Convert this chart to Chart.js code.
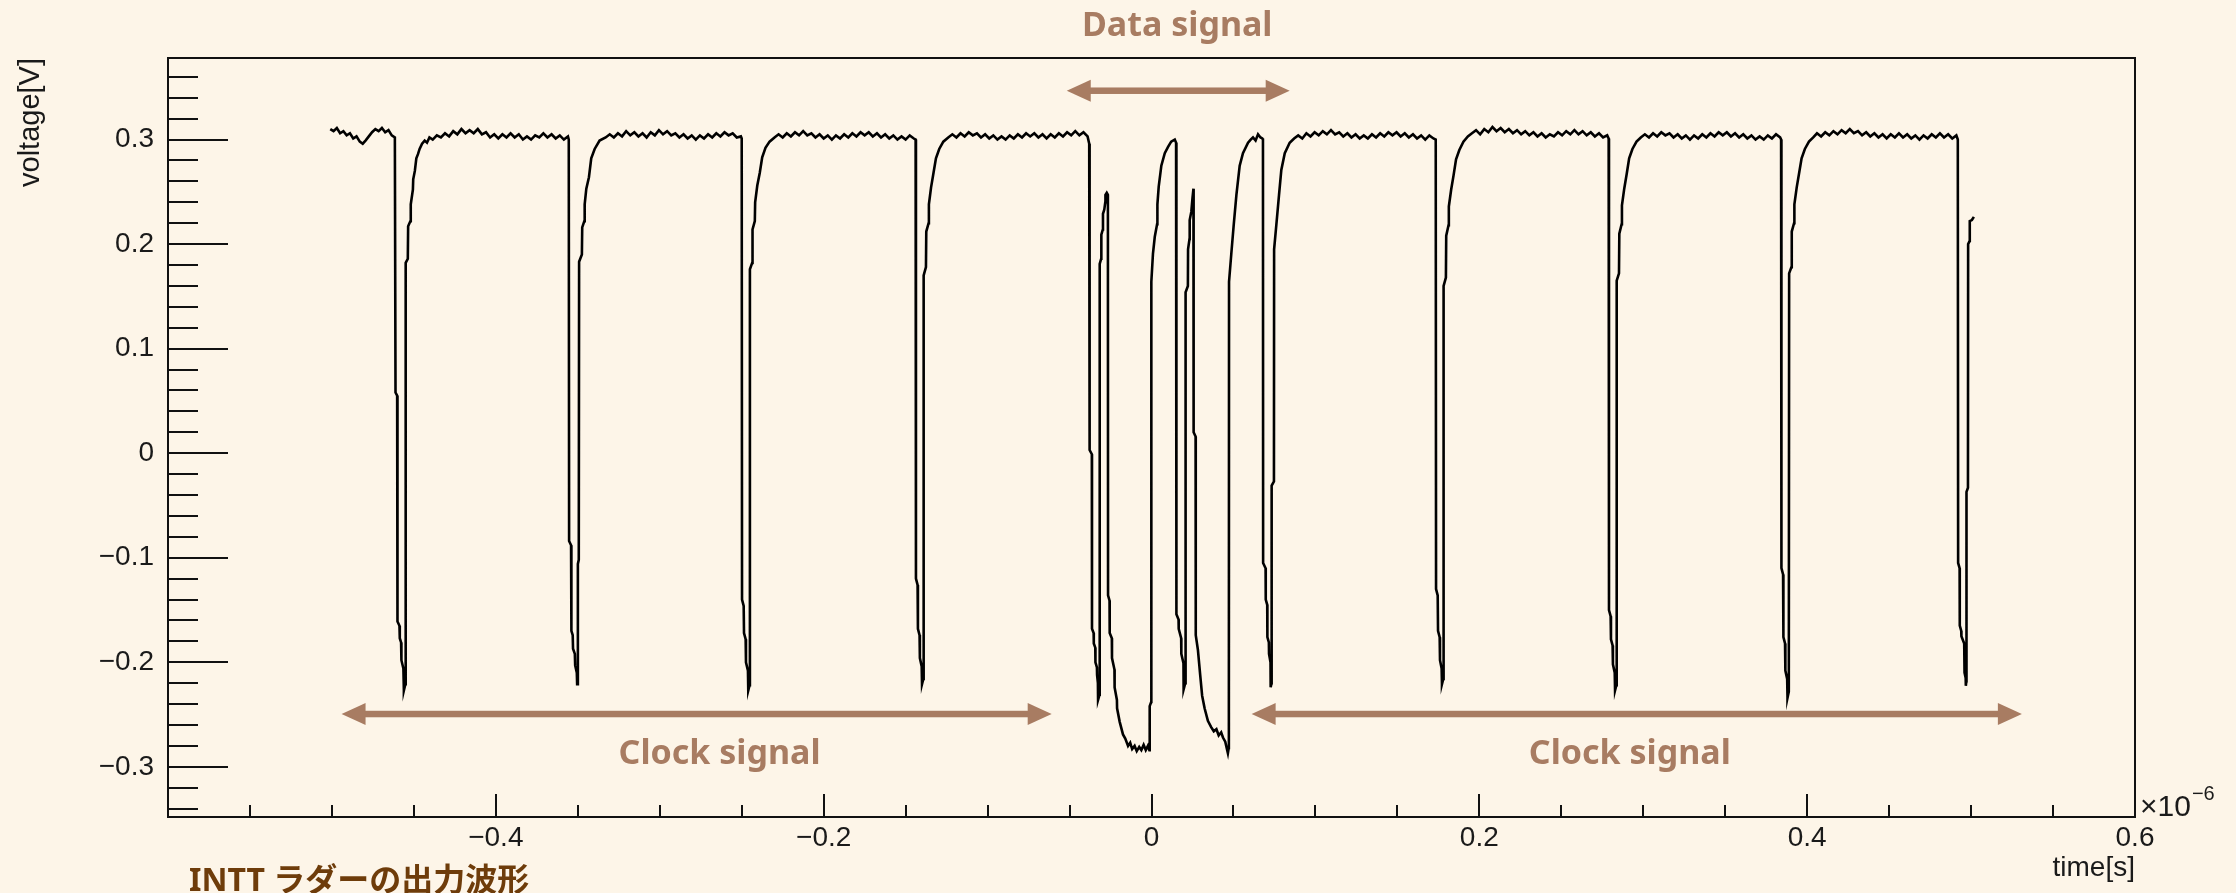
<!DOCTYPE html>
<html>
<head>
<meta charset="utf-8">
<title>INTT ladder output waveform</title>
<script src="https://cdn.jsdelivr.net/npm/chart.js@4.4.1/dist/chart.umd.min.js"></script>
<style>
  html, body { margin: 0; padding: 0; background: #fdf5e8; }
  canvas { display: block; }
</style>
</head>
<body>
<canvas id="waveChart" width="2236" height="893"></canvas>
<script>
// trace points: [time (x1e-6 s), voltage (V)]
const leftClockTrace = [
  [-0.5010,0.310],[-0.4990,0.308],[-0.4970,0.311],[-0.4950,0.306],[-0.4930,0.308],[-0.4910,0.304],[-0.4890,0.306],
  [-0.4870,0.301],[-0.4850,0.303],[-0.4830,0.298],[-0.4812,0.296],[-0.4795,0.299],[-0.4775,0.303],[-0.4755,0.307],
  [-0.4735,0.310],[-0.4715,0.308],[-0.4695,0.311],[-0.4675,0.307],[-0.4655,0.309],[-0.4635,0.304],[-0.4616,0.302],
  [-0.4612,0.058],[-0.4602,0.055],[-0.4600,-0.161],[-0.4588,-0.165],[-0.4586,-0.177],[-0.4578,-0.181],[-0.4576,-0.198],
  [-0.4564,-0.206],[-0.4561,-0.227],[-0.4552,-0.221],[-0.4550,0.182],[-0.4537,0.186],[-0.4535,0.217],[-0.4521,0.222],
  [-0.4519,0.238],[-0.4506,0.252],[-0.4504,0.262],[-0.4494,0.270],[-0.4485,0.282],[-0.4475,0.286],[-0.4465,0.291],
  [-0.4450,0.296],[-0.4434,0.299],[-0.4420,0.297],[-0.4405,0.302],
  [-0.4385,0.300],[-0.4360,0.304],[-0.4335,0.302],[-0.4310,0.306],[-0.4285,0.303],[-0.4260,0.308],[-0.4235,0.305],
  [-0.4210,0.310],[-0.4185,0.306],[-0.4160,0.309],[-0.4135,0.306],[-0.4110,0.310],[-0.4085,0.305],[-0.4060,0.307],
  [-0.4035,0.302],[-0.4010,0.305],[-0.3985,0.301],[-0.3960,0.305],[-0.3935,0.302],[-0.3910,0.306],[-0.3885,0.302],
  [-0.3860,0.305],[-0.3835,0.300],[-0.3810,0.303],[-0.3785,0.300],[-0.3760,0.304],[-0.3735,0.302],[-0.3710,0.306],
  [-0.3685,0.302],[-0.3660,0.305],[-0.3635,0.301],[-0.3610,0.304],[-0.3585,0.300],[-0.3560,0.303],
  [-0.3555,0.300],[-0.3553,-0.084],[-0.3541,-0.088],[-0.3539,-0.170],[-0.3531,-0.174],[-0.3529,-0.187],[-0.3518,-0.192],
  [-0.3516,-0.203],[-0.3506,-0.210],[-0.3504,-0.221],[-0.3500,-0.216],[-0.3499,-0.106],[-0.3494,-0.102],[-0.3492,0.183],
  [-0.3475,0.190],[-0.3473,0.216],[-0.3460,0.222],[-0.3458,0.238],[-0.3448,0.253],[-0.3432,0.264],[-0.3418,0.282],
  [-0.3397,0.291],[-0.3367,0.299],[-0.3330,0.302],
  [-0.3305,0.305],[-0.3280,0.302],[-0.3255,0.306],[-0.3230,0.303],[-0.3205,0.308],[-0.3180,0.304],[-0.3155,0.307],
  [-0.3130,0.303],[-0.3105,0.306],[-0.3080,0.302],[-0.3055,0.307],[-0.3030,0.304],[-0.3005,0.309],[-0.2980,0.305],
  [-0.2955,0.308],[-0.2930,0.304],[-0.2905,0.306],[-0.2880,0.302],[-0.2855,0.305],[-0.2830,0.301],[-0.2805,0.304],
  [-0.2780,0.300],[-0.2755,0.304],[-0.2730,0.301],[-0.2705,0.305],[-0.2680,0.302],[-0.2655,0.306],[-0.2630,0.303],
  [-0.2605,0.307],[-0.2580,0.304],[-0.2555,0.306],[-0.2530,0.302],[-0.2505,0.303],
  [-0.2500,0.301],[-0.2498,-0.140],[-0.2488,-0.146],[-0.2486,-0.172],[-0.2476,-0.178],[-0.2474,-0.200],[-0.2462,-0.208],
  [-0.2460,-0.227],[-0.2452,-0.222],[-0.2450,0.176],[-0.2436,0.182],[-0.2434,0.214],[-0.2420,0.222],[-0.2418,0.240],
  [-0.2405,0.256],[-0.2390,0.268],[-0.2375,0.283],[-0.2355,0.292],[-0.2330,0.298],[-0.2300,0.302],
  [-0.2275,0.305],[-0.2250,0.302],[-0.2225,0.306],[-0.2200,0.303],[-0.2175,0.307],[-0.2150,0.304],[-0.2125,0.308],
  [-0.2100,0.304],[-0.2075,0.306],[-0.2050,0.302],[-0.2025,0.305],[-0.2000,0.301],[-0.1975,0.304],[-0.1950,0.300],
  [-0.1925,0.304],[-0.1900,0.301],[-0.1875,0.305],[-0.1850,0.302],[-0.1825,0.306],[-0.1800,0.303],[-0.1775,0.307],
  [-0.1750,0.304],[-0.1725,0.307],[-0.1700,0.303],[-0.1675,0.306],[-0.1650,0.302],[-0.1625,0.305],[-0.1600,0.301],
  [-0.1575,0.304],[-0.1550,0.300],[-0.1525,0.303],[-0.1500,0.300],[-0.1475,0.304],[-0.1450,0.301],
  [-0.1439,0.300],[-0.1437,-0.120],[-0.1427,-0.126],[-0.1425,-0.168],[-0.1415,-0.174],[-0.1413,-0.196],[-0.1402,-0.204],
  [-0.1400,-0.221],[-0.1392,-0.216],[-0.1390,0.170],[-0.1376,0.178],[-0.1374,0.212],[-0.1360,0.220],[-0.1358,0.238],
  [-0.1345,0.254],[-0.1330,0.268],[-0.1315,0.282],[-0.1295,0.291],[-0.1270,0.298],[-0.1240,0.302],
  [-0.1215,0.305],[-0.1190,0.302],[-0.1165,0.306],[-0.1140,0.303],[-0.1115,0.307],[-0.1090,0.304],[-0.1065,0.306],
  [-0.1040,0.302],[-0.1015,0.305],[-0.0990,0.301],[-0.0965,0.304],[-0.0940,0.300],[-0.0915,0.303],[-0.0890,0.300],
  [-0.0865,0.304],[-0.0840,0.301],[-0.0815,0.305],[-0.0790,0.302],[-0.0765,0.306],[-0.0740,0.303],[-0.0715,0.306],
  [-0.0690,0.302],[-0.0665,0.305],[-0.0640,0.301],[-0.0615,0.305],[-0.0590,0.302],[-0.0565,0.306],[-0.0540,0.303],
  [-0.0515,0.307],[-0.0490,0.304],[-0.0465,0.308],[-0.0440,0.304],[-0.0415,0.307],[-0.0390,0.303]
];

const dataSignalTrace = [
  [-0.0380,0.296],[-0.0378,0.294],[-0.0377,0.003],[-0.0364,-0.001],[-0.0363,-0.168],[-0.0353,-0.172],[-0.0352,-0.182],
  [-0.0343,-0.186],[-0.0342,-0.200],[-0.0333,-0.205],[-0.0332,-0.212],[-0.0327,-0.220],[-0.0326,-0.236],[-0.0317,-0.231],
  [-0.0316,0.181],[-0.0307,0.186],[-0.0306,0.209],[-0.0297,0.214],[-0.0296,0.229],[-0.0288,0.233],[-0.0282,0.240],
  [-0.0281,0.247],[-0.0273,0.249],[-0.0266,0.247],[-0.0265,-0.136],[-0.0256,-0.141],[-0.0255,-0.172],[-0.0242,-0.177],
  [-0.0241,-0.196],[-0.0226,-0.207],[-0.0225,-0.224],[-0.0211,-0.236],[-0.0210,-0.244],[-0.0194,-0.257],[-0.0174,-0.269],
  [-0.0160,-0.273],[-0.0143,-0.280],[-0.0130,-0.277],[-0.0118,-0.283],[-0.0103,-0.280],[-0.0090,-0.285],[-0.0075,-0.281],
  [-0.0062,-0.284],[-0.0048,-0.279],[-0.0035,-0.284],[-0.0022,-0.280],[-0.0013,-0.284],[-0.0011,-0.242],[-0.0002,-0.238],
  [-0.0001,0.164],[0.0009,0.191],[0.0020,0.207],[0.0034,0.219],[0.0036,0.238],[0.0044,0.255],[0.0060,0.275],
  [0.0081,0.287],[0.0101,0.293],[0.0120,0.298],[0.0142,0.300],[0.0150,0.297],[0.0152,-0.154],[0.0165,-0.159],
  [0.0166,-0.168],[0.0181,-0.177],[0.0182,-0.192],[0.0195,-0.201],[0.0196,-0.226],[0.0206,-0.220],[0.0208,0.154],
  [0.0222,0.160],[0.0223,0.195],[0.0232,0.205],[0.0233,0.223],[0.0243,0.231],[0.0250,0.244],[0.0256,0.253],
  [0.0257,0.020],[0.0269,0.016],[0.0270,-0.174],[0.0283,-0.188],[0.0297,-0.212],[0.0309,-0.232],[0.0324,-0.244],
  [0.0344,-0.256],[0.0364,-0.262],[0.0380,-0.266],[0.0396,-0.264],[0.0410,-0.270],[0.0425,-0.267],[0.0436,-0.272],
  [0.0450,-0.276],[0.0460,-0.283],[0.0466,-0.287],[0.0471,-0.282],[0.0472,-0.248],[0.0473,0.164],[0.0487,0.191],
  [0.0502,0.219],[0.0518,0.247],[0.0538,0.275],[0.0558,0.287],[0.0589,0.297],[0.0605,0.300],[0.0619,0.302],
  [0.0635,0.299],[0.0650,0.305],[0.0665,0.302],[0.0676,0.301]
];

const rightClockTrace = [
  [0.0680,0.300],[0.0681,-0.105],[0.0696,-0.110],[0.0697,-0.140],[0.0706,-0.145],[0.0707,-0.176],[0.0716,-0.181],
  [0.0717,-0.192],[0.0726,-0.200],[0.0727,-0.224],[0.0732,-0.220],[0.0733,-0.031],[0.0747,-0.027],[0.0748,0.195],
  [0.0762,0.219],[0.0778,0.247],[0.0792,0.271],[0.0813,0.287],[0.0843,0.297],[0.0870,0.301],
  [0.0895,0.304],[0.0920,0.301],[0.0945,0.306],[0.0970,0.303],[0.0995,0.307],[0.1020,0.304],[0.1045,0.308],
  [0.1070,0.305],[0.1095,0.309],[0.1120,0.305],[0.1145,0.307],[0.1170,0.303],[0.1195,0.306],[0.1220,0.302],
  [0.1245,0.305],[0.1270,0.301],[0.1295,0.304],[0.1320,0.301],[0.1345,0.305],[0.1370,0.302],[0.1395,0.306],
  [0.1420,0.303],[0.1445,0.307],[0.1470,0.304],[0.1495,0.307],[0.1520,0.303],[0.1545,0.306],[0.1570,0.302],
  [0.1595,0.305],[0.1620,0.301],[0.1645,0.304],[0.1670,0.300],[0.1695,0.304],[0.1720,0.301],
  [0.1734,0.300],[0.1736,-0.130],[0.1746,-0.136],[0.1748,-0.170],[0.1758,-0.176],[0.1760,-0.198],[0.1770,-0.206],
  [0.1772,-0.221],[0.1780,-0.216],[0.1782,0.160],[0.1796,0.168],[0.1798,0.208],[0.1812,0.218],[0.1814,0.236],
  [0.1828,0.252],[0.1843,0.266],[0.1858,0.281],[0.1878,0.290],[0.1903,0.298],[0.1930,0.303],
  [0.1955,0.306],[0.1980,0.309],[0.2005,0.305],[0.2030,0.310],[0.2055,0.307],[0.2080,0.312],[0.2105,0.308],
  [0.2130,0.311],[0.2155,0.307],[0.2180,0.310],[0.2205,0.306],[0.2230,0.309],[0.2255,0.305],[0.2280,0.308],
  [0.2305,0.304],[0.2330,0.307],[0.2355,0.303],[0.2380,0.306],[0.2405,0.302],[0.2430,0.305],[0.2455,0.303],
  [0.2480,0.307],[0.2505,0.304],[0.2530,0.308],[0.2555,0.305],[0.2580,0.309],[0.2605,0.305],[0.2630,0.308],
  [0.2655,0.304],[0.2680,0.307],[0.2705,0.303],[0.2730,0.306],[0.2755,0.302],[0.2780,0.304],
  [0.2789,0.301],[0.2791,-0.150],[0.2801,-0.156],[0.2803,-0.178],[0.2813,-0.184],[0.2815,-0.202],[0.2826,-0.210],
  [0.2828,-0.227],[0.2836,-0.222],[0.2838,0.165],[0.2852,0.172],[0.2854,0.210],[0.2868,0.219],[0.2870,0.237],
  [0.2884,0.253],[0.2899,0.267],[0.2914,0.282],[0.2934,0.291],[0.2959,0.298],[0.2985,0.302],
  [0.3010,0.305],[0.3035,0.302],[0.3060,0.306],[0.3085,0.303],[0.3110,0.307],[0.3135,0.304],[0.3160,0.306],
  [0.3185,0.302],[0.3210,0.305],[0.3235,0.301],[0.3260,0.304],[0.3285,0.300],[0.3310,0.304],[0.3335,0.301],
  [0.3360,0.305],[0.3385,0.302],[0.3410,0.306],[0.3435,0.303],[0.3460,0.307],[0.3485,0.304],[0.3510,0.307],
  [0.3535,0.303],[0.3560,0.306],[0.3585,0.302],[0.3610,0.305],[0.3635,0.301],[0.3660,0.304],[0.3685,0.300],
  [0.3710,0.303],[0.3735,0.300],[0.3760,0.304],[0.3785,0.301],[0.3810,0.305],[0.3835,0.302],
  [0.3841,0.300],[0.3843,-0.110],[0.3853,-0.116],[0.3855,-0.176],[0.3865,-0.182],[0.3867,-0.208],[0.3878,-0.216],
  [0.3880,-0.234],[0.3888,-0.228],[0.3890,0.172],[0.3904,0.178],[0.3906,0.212],[0.3920,0.220],[0.3922,0.238],
  [0.3936,0.254],[0.3951,0.268],[0.3966,0.282],[0.3986,0.291],[0.4011,0.298],[0.4037,0.302],
  [0.4060,0.306],[0.4085,0.303],[0.4110,0.307],[0.4135,0.304],[0.4160,0.308],[0.4185,0.305],[0.4210,0.309],
  [0.4235,0.306],[0.4260,0.310],[0.4285,0.306],[0.4310,0.308],[0.4335,0.304],[0.4360,0.307],[0.4385,0.303],
  [0.4410,0.306],[0.4435,0.302],[0.4460,0.305],[0.4485,0.301],[0.4510,0.305],[0.4535,0.302],[0.4560,0.306],
  [0.4585,0.302],[0.4610,0.305],[0.4635,0.301],[0.4660,0.304],[0.4685,0.300],[0.4710,0.304],[0.4735,0.301],
  [0.4760,0.305],[0.4785,0.302],[0.4810,0.306],[0.4835,0.302],[0.4860,0.305],[0.4885,0.301],[0.4910,0.304],
  [0.4919,0.300],[0.4921,-0.105],[0.4930,-0.110],[0.4931,-0.165],[0.4940,-0.170],[0.4941,-0.175],[0.4958,-0.182],
  [0.4960,-0.210],[0.4967,-0.215],[0.4968,-0.2225],[0.4971,-0.218],[0.4972,-0.037],[0.4981,-0.033],[0.4982,0.200],
  [0.4991,0.203],[0.4992,0.222],[0.5005,0.223],[0.5017,0.226]
];

const xTickValues = [-0.4, -0.2, 0, 0.2, 0.4, 0.6];
const yTickValues = [-0.3, -0.2, -0.1, 0, 0.1, 0.2, 0.3];

// annotation arrows, in axis units
const notes = [
  { from: -0.0517, to: 0.0843, level: 0.3467, text: 'Data signal', textAt: 0.0157, textLevel: 0.3993 },
  { from: -0.4941, to: -0.0609, level: -0.2495, text: 'Clock signal', textAt: -0.2635, textLevel: -0.297 },
  { from: 0.0611, to: 0.5310, level: -0.2495, text: 'Clock signal', textAt: 0.2918, textLevel: -0.297 }
];

const chartTitle = 'INTT ラダーの出力波形';

function rootLabel(v) {
  if (Math.abs(v) < 1e-9) return '0';
  const s = Math.abs(v).toFixed(1);
  return v < 0 ? '\u2212' + s : s;
}

function drawArrow(ctx, x1, x2, yy) {
  const head = 24, half = 11, shaft = 6.5;
  ctx.fillRect(x1 + head - 1, yy - shaft / 2, x2 - x1 - 2 * head + 2, shaft);
  ctx.beginPath();
  ctx.moveTo(x1, yy); ctx.lineTo(x1 + head, yy - half); ctx.lineTo(x1 + head, yy + half);
  ctx.closePath(); ctx.fill();
  ctx.beginPath();
  ctx.moveTo(x2, yy); ctx.lineTo(x2 - head, yy - half); ctx.lineTo(x2 - head, yy + half);
  ctx.closePath(); ctx.fill();
}

// ROOT style frame, inward ticks, exponent, notes and title
const rootFrame = {
  id: 'rootFrame',
  afterDraw(chart) {
    const { ctx, chartArea: a, scales: { x, y } } = chart;
    ctx.save();
    ctx.strokeStyle = '#111';
    ctx.lineWidth = 2;
    ctx.strokeRect(a.left, a.top, a.right - a.left, a.bottom - a.top);

    ctx.beginPath();
    for (let k = -17; k <= 18; k++) {
      const py = Math.round(y.getPixelForValue(k * 0.02));
      const len = k % 5 === 0 ? 60 : 30;
      ctx.moveTo(a.left, py); ctx.lineTo(a.left + len, py);
    }
    for (let k = -11; k <= 11; k++) {
      const px = Math.round(x.getPixelForValue(k * 0.05));
      const len = k % 4 === 0 ? 23 : 12;
      ctx.moveTo(px, a.bottom); ctx.lineTo(px, a.bottom - len);
    }
    ctx.stroke();

    ctx.fillStyle = '#1a1a1a';
    ctx.textAlign = 'left';
    ctx.textBaseline = 'alphabetic';
    ctx.font = '30px "Liberation Sans"';
    ctx.fillText('\u00d710', a.right + 5, a.bottom - 1);
    const w = ctx.measureText('\u00d710').width;
    ctx.font = '20px "Liberation Sans"';
    ctx.fillText('\u22126', a.right + 6 + w, a.bottom - 17);

    ctx.fillStyle = '#a87c62';
    ctx.font = 'bold 34px "Noto Sans"';
    ctx.textAlign = 'center';
    notes.forEach(n => {
      drawArrow(ctx, x.getPixelForValue(n.from), x.getPixelForValue(n.to), y.getPixelForValue(n.level));
      ctx.fillText(n.text, x.getPixelForValue(n.textAt), y.getPixelForValue(n.textLevel));
    });

    ctx.fillStyle = '#6e3c0a';
    ctx.font = 'bold 32px "Noto Sans", "Noto Sans CJK JP"';
    ctx.textAlign = 'left';
    ctx.fillText(chartTitle, a.left + 21, chart.height - 2);
    ctx.restore();
  }
};

const trace = [...leftClockTrace, ...dataSignalTrace, ...rightClockTrace].map(([t, v]) => ({ x: t, y: v }));

Chart.defaults.font.family = '"Liberation Sans", Arial, sans-serif';

const ctx = document.getElementById('waveChart').getContext('2d');

new Chart(ctx, {
  type: 'scatter',
  data: {
    datasets: [{
      label: 'voltage',
      data: trace,
      showLine: true,
      borderColor: '#000',
      borderWidth: 2.6,
      borderJoinStyle: 'miter',
      pointRadius: 0,
      tension: 0
    }]
  },
  options: {
    responsive: false,
    animation: false,
    devicePixelRatio: 1,
    layout: { padding: { top: 58, right: 101, bottom: 0, left: 0 } },
    plugins: {
      legend: { display: false },
      tooltip: { enabled: false }
    },
    scales: {
      x: {
        type: 'linear',
        min: -0.6,
        max: 0.6,
        grid: { display: false, drawTicks: false },
        border: { display: false },
        afterBuildTicks: axis => { axis.ticks = xTickValues.map(value => ({ value })); },
        afterFit: axis => { axis.height = 76; },
        ticks: {
          autoSkip: false,
          maxRotation: 0,
          padding: 4,
          color: '#1a1a1a',
          font: { size: 28 },
          callback: v => rootLabel(v)
        },
        title: {
          display: true,
          text: 'time[s]',
          align: 'end',
          color: '#1a1a1a',
          font: { size: 28 },
          padding: { top: 0, bottom: 8 }
        }
      },
      y: {
        type: 'linear',
        min: -0.348,
        max: 0.378,
        grid: { display: false, drawTicks: false },
        border: { display: false },
        afterBuildTicks: axis => { axis.ticks = yTickValues.map(value => ({ value })); },
        afterFit: axis => { axis.width = 168; },
        ticks: {
          autoSkip: false,
          padding: 14,
          color: '#1a1a1a',
          font: { size: 28 },
          callback: v => rootLabel(v)
        },
        title: {
          display: true,
          text: 'voltage[V]',
          align: 'end',
          color: '#1a1a1a',
          font: { size: 29 },
          padding: { top: 14, bottom: 0 }
        }
      }
    }
  },
  plugins: [rootFrame]
});
</script>
</body>
</html>
